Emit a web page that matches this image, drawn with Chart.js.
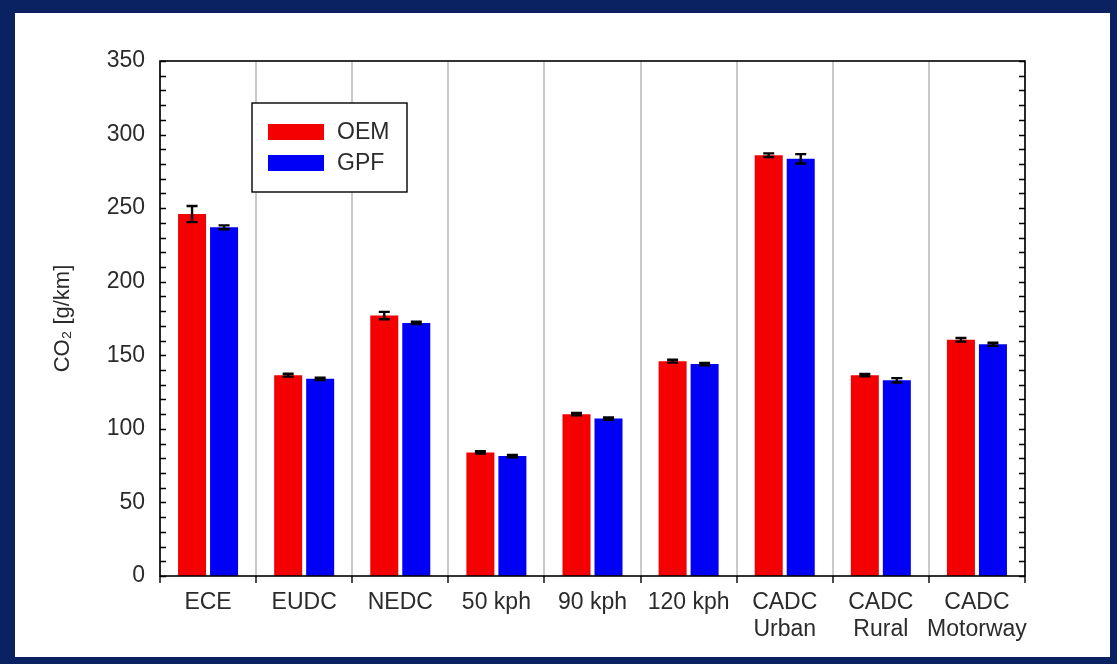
<!DOCTYPE html>
<html>
<head>
<meta charset="utf-8">
<script src="https://cdn.jsdelivr.net/npm/chart.js@4/dist/chart.umd.min.js"></script>
<style>
  html, body { margin: 0; padding: 0; }
  body { width: 1117px; height: 664px; background: #0b2262; position: relative; overflow: hidden; }
  #panel { position: absolute; left: 15px; top: 13px; width: 1095px; height: 644px; background: #ffffff; }
  #panel canvas { display: block; }
</style>
</head>
<body>
<div id="panel"><canvas id="chart" width="1095" height="644"></canvas></div>
<script>
// Driving cycles / test conditions
const categories = [
  'ECE', 'EUDC', 'NEDC', '50 kph', '90 kph', '120 kph',
  ['CADC', 'Urban'], ['CADC', 'Rural'], ['CADC', 'Motorway']
];

// Mean CO2 emissions, g/km
const oemValues = [246, 136.5, 177, 84, 110, 146, 286, 136.5, 160.5];
const gpfValues = [237, 134, 172, 81.5, 107, 144, 283.5, 133, 157.5];

// Half-width of the error bars, g/km
const oemErrors = [5.5, 1, 2.5, 0.8, 0.8, 1, 1.2, 0.8, 1.2];
const gpfErrors = [1.3, 0.8, 0.8, 0.8, 0.8, 0.8, 3.2, 1.5, 1];

const seriesLabels = ['OEM', 'GPF'];
const yTicks = [0, 50, 100, 150, 200, 250, 300, 350];

const FONT = 'Liberation Sans, Arial, Helvetica, sans-serif';
const TEXT = '#2b2b2b';

// Black frame around the plot, inward ticks on both y sides, error bars
const decorations = {
  id: 'decorations',
  afterDatasetsDraw(chart) {
    const { ctx, chartArea: a, scales: { y } } = chart;
    ctx.save();

    // error bars
    const errs = [oemErrors, gpfErrors];
    ctx.strokeStyle = '#000';
    ctx.lineWidth = 2.4;
    chart.data.datasets.forEach((ds, i) => {
      const meta = chart.getDatasetMeta(i);
      meta.data.forEach((bar, j) => {
        const v = ds.data[j], e = errs[i][j];
        const yt = y.getPixelForValue(v + e);
        const yb = y.getPixelForValue(v - e);
        const x = bar.x;
        ctx.beginPath();
        ctx.moveTo(x, yt); ctx.lineTo(x, yb);
        ctx.moveTo(x - 5.5, yt); ctx.lineTo(x + 5.5, yt);
        ctx.moveTo(x - 5.5, yb); ctx.lineTo(x + 5.5, yb);
        ctx.stroke();
      });
    });

    // minor/major inward ticks every 10 units
    ctx.lineWidth = 1.3;
    ctx.beginPath();
    for (let v = y.min; v <= y.max; v += 10) {
      const py = Math.round(y.getPixelForValue(v)) + 0.5;
      ctx.moveTo(a.left, py); ctx.lineTo(a.left + 6, py);
      ctx.moveTo(a.right, py); ctx.lineTo(a.right - 6, py);
    }
    ctx.stroke();

    // frame
    ctx.lineWidth = 1.6;
    ctx.strokeRect(a.left, a.top, a.right - a.left, a.bottom - a.top);
    ctx.restore();
  },
  afterDraw(chart) {
    // legend box inside the plot
    const { ctx, chartArea: a } = chart;
    const bx = a.left + 92, by = a.top + 42, bw = 155, bh = 89;
    ctx.save();
    ctx.fillStyle = '#fff';
    ctx.fillRect(bx, by, bw, bh);
    ctx.strokeStyle = '#000';
    ctx.lineWidth = 1.4;
    ctx.strokeRect(bx, by, bw, bh);
    ctx.font = '23px ' + FONT;
    ctx.textBaseline = 'middle';
    chart.data.datasets.forEach((ds, i) => {
      const sy = by + 21 + i * 31;
      ctx.fillStyle = ds.backgroundColor;
      ctx.fillRect(bx + 16, sy, 56, 16);
      ctx.fillStyle = TEXT;
      ctx.fillText(ds.label, bx + 85, sy + 8.5);
    });
    ctx.restore();
  }
};

new Chart(document.getElementById('chart'), {
  type: 'bar',
  data: {
    labels: categories,
    datasets: [
      { label: seriesLabels[0], data: oemValues, backgroundColor: '#f40000', borderWidth: 0,
        barPercentage: 0.875, categoryPercentage: 0.666 },
      { label: seriesLabels[1], data: gpfValues, backgroundColor: '#0000f6', borderWidth: 0,
        barPercentage: 0.875, categoryPercentage: 0.666 }
    ]
  },
  options: {
    responsive: false,
    animation: false,
    devicePixelRatio: 1,
    layout: { padding: { top: 48, right: 85, bottom: 0, left: 0 } },
    plugins: { legend: { display: false }, tooltip: { enabled: false } },
    scales: {
      x: {
        offset: true,
        grid: { color: '#c9c9c9', lineWidth: 2, tickColor: '#000', tickLength: 7, tickWidth: 1.4, offset: true },
        border: { display: false },
        ticks: { color: TEXT, font: { family: FONT, size: 23, lineHeight: 1.18 }, padding: 6,
                 maxRotation: 0, autoSkip: false },
        afterFit: s => { s.height = 81; }
      },
      y: {
        min: 0, max: 350,
        afterBuildTicks: s => { s.ticks = yTicks.map(v => ({ value: v })); },
        grid: { display: false, drawTicks: false },
        border: { display: false },
        ticks: { color: TEXT, font: { family: FONT, size: 23 }, padding: 15 },
        title: { display: true, text: 'CO₂ [g/km]', color: TEXT,
                 font: { family: FONT, size: 22 }, padding: { top: 35, bottom: 0 } },
        afterFit: s => { s.width = 145; }
      }
    }
  },
  plugins: [decorations]
});
</script>
</body>
</html>
